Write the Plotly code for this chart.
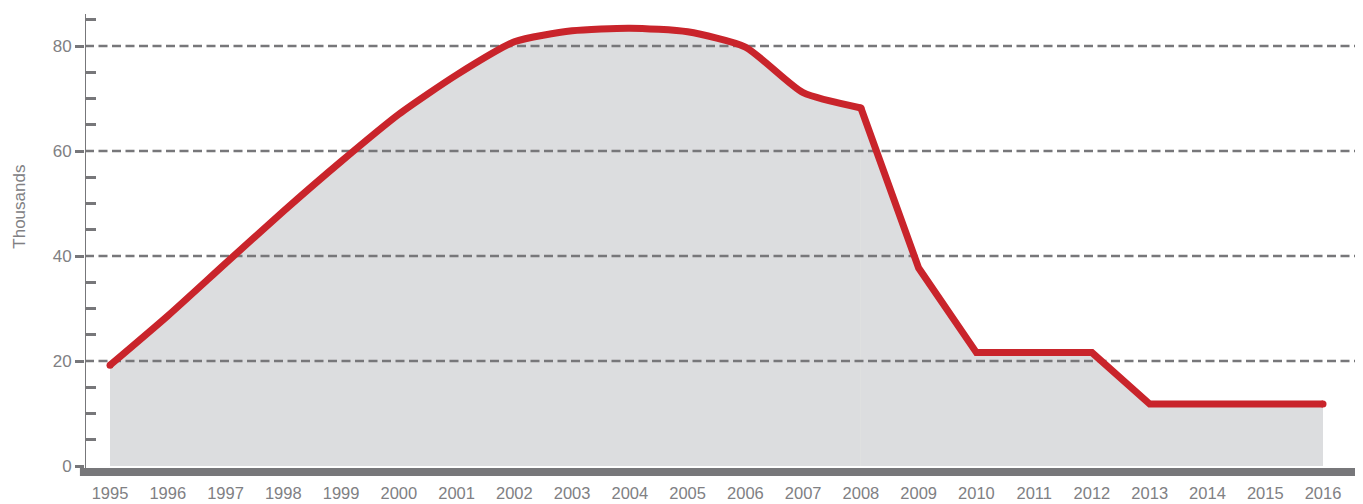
import plotly.graph_objects as go

years = list(range(1995, 2017))
values = [19.2, 28.6, 38.6, 48.5, 58.0, 67.0, 74.5, 80.8, 82.9, 83.4, 82.7, 79.8,
          71.1, 68.2, 37.7, 21.6, 21.6, 21.6, 11.8, 11.8, 11.8, 11.8]
grid_values = [20, 40, 60, 80]
y_ticks = [0, 20, 40, 60, 80]
y_title = "Thousands"
split_year = 2008  # smooth curve up to here, straight segments after

GREY = "#77777a"
TEXT = "#808083"
RED = "#c9242b"
FILL = "#dcdddf"

x_min, x_max = 1994.567, 2016.554
y_min, y_max = -2.286, 86.857

i = years.index(split_year)
seg1_x, seg1_y = years[:i + 1], values[:i + 1]
seg2_x, seg2_y = years[i:], values[i:]

fig = go.Figure()

# grey area
fig.add_trace(go.Scatter(x=seg1_x, y=seg1_y, mode="lines",
                         line=dict(width=0, color=FILL, shape="spline", smoothing=0.6),
                         fill="tozeroy", fillcolor=FILL, hoverinfo="skip", showlegend=False))
fig.add_trace(go.Scatter(x=seg2_x, y=seg2_y, mode="lines",
                         line=dict(width=0, color=FILL),
                         fill="tozeroy", fillcolor=FILL, hoverinfo="skip", showlegend=False))
# dashed gridlines (above fill, below line)
for g in grid_values:
    fig.add_trace(go.Scatter(x=[x_min, x_max], y=[g, g], mode="lines",
                             line=dict(color=GREY, width=2.6, dash="9px,4.5px"),
                             hoverinfo="skip", showlegend=False))
# red line
fig.add_trace(go.Scatter(x=seg1_x, y=seg1_y, mode="lines",
                         line=dict(color=RED, width=7, shape="spline", smoothing=0.6),
                         showlegend=False))
fig.add_trace(go.Scatter(x=seg2_x, y=seg2_y, mode="lines",
                         line=dict(color=RED, width=7),
                         showlegend=False))
# round end caps and joint
cap_x = [years[0], split_year, years[-1]]
cap_y = [values[0], values[i], values[-1]]
fig.add_trace(go.Scatter(x=cap_x, y=cap_y, mode="markers",
                         marker=dict(color=RED, size=7, line=dict(width=0)),
                         hoverinfo="skip", showlegend=False))

shapes = [
    # y axis line
    dict(type="line", xref="x", yref="y", x0=x_min, x1=x_min, y0=-1.1, y1=86.1,
         line=dict(color=GREY, width=2), layer="above"),
    # thick baseline
    dict(type="line", xref="paper", yref="y", x0=-0.004, x1=1.0, y0=-1.14, y1=-1.14,
         line=dict(color=GREY, width=8), layer="above"),
]

fig.update_layout(
    width=1363, height=504,
    margin=dict(l=85, r=8, t=10, b=26, autoexpand=False),
    paper_bgcolor="white", plot_bgcolor="white",
    font=dict(family="Liberation Sans, Arial, sans-serif", size=17, color=TEXT),
    shapes=shapes,
    xaxis=dict(range=[x_min, x_max], tickmode="array", tickvals=years,
               ticktext=[str(y) for y in years], showgrid=False, zeroline=False,
               showline=False, ticks="", ticklabelstandoff=3, automargin=False,
               tickfont=dict(size=16.5, color=TEXT)),
    yaxis=dict(range=[y_min, y_max], tickmode="array", tickvals=y_ticks,
               showgrid=False, zeroline=False, showline=False, automargin=False,
               ticks="outside", ticklen=9, tickwidth=2.5, tickcolor=GREY,
               tickfont=dict(size=17, color=TEXT),
               minor=dict(tickmode="array", tickvals=[5, 10, 15, 25, 30, 35, 45, 50, 55, 65, 70, 75, 85],
                          ticks="inside", ticklen=11, tickwidth=2.5, tickcolor=GREY, showgrid=False)),
    annotations=[dict(text=y_title, xref="paper", yref="y", x=0, y=49.3, xshift=-77,
                      textangle=-90, showarrow=False, font=dict(size=17, color=TEXT))],
)

fig.write_html("out.html")
